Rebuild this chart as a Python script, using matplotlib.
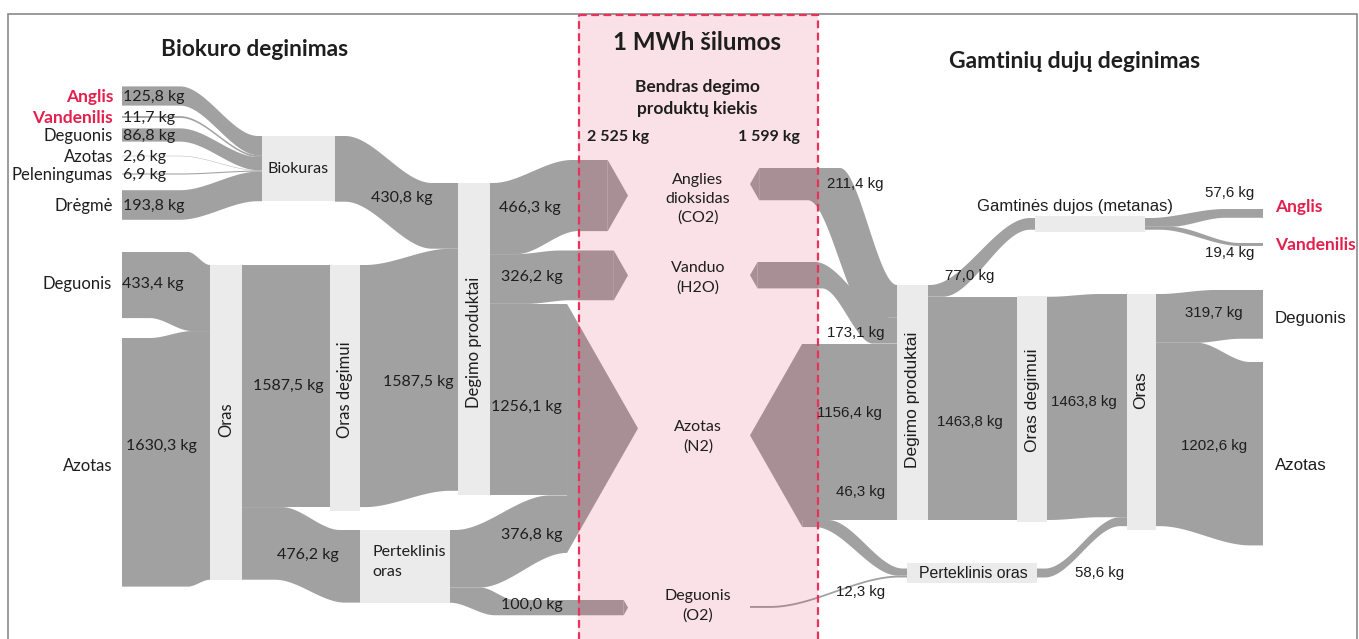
import matplotlib
matplotlib.use('Agg')
import matplotlib.pyplot as plt
import numpy as np
from matplotlib.patches import Polygon, Rectangle

# ---------------- DATA ----------------
bio_names = ['Anglis', 'Vandenilis', 'Deguonis', 'Azotas', 'Peleningumas', 'Drėgmė']
bio_values = [125.8, 11.7, 86.8, 2.6, 6.9, 193.8]
bio_red = [True, True, False, False, False, False]
biofuel_total = 430.8
air_names = ['Deguonis', 'Azotas']
air_bio = [433.4, 1630.3]
air_comb_bio = 1587.5
excess_air_bio = 476.2
products_bio = [466.3, 326.2, 1256.1]      # CO2, H2O, N2 from combustion products
excess_out_bio = [376.8, 100.0]            # N2, O2 from excess air
product_names = ['Anglies\ndioksidas\n(CO2)', 'Vanduo\n(H2O)', 'Azotas\n(N2)', 'Deguonis\n(O2)']
total_bio = '2 525 kg'
total_gas = '1 599 kg'
products_gas = [211.4, 173.1, 1156.4]      # CO2, H2O, N2 into combustion products
excess_out_gas = [46.3, 12.3]              # N2, O2 from excess air
gas_fuel = 77.0
gas_parts = [57.6, 19.4]                   # Anglis, Vandenilis
gas_part_names = ['Anglis', 'Vandenilis']
air_comb_gas = 1463.8
excess_air_gas = 58.6
air_gas = [319.7, 1202.6]

# ---------------- STYLE ----------------
W, H = 1359, 639
S = 0.1525            # px per kg
GRAY = '#a1a1a1'
NODE = '#ebebeb'
TXT = '#1e1e1e'
RED = '#e3204d'
K = 0.57              # arrow head depth / half height
FL = ['Lato', 'DejaVu Sans']
FR = ['Liberation Sans', 'DejaVu Sans']
NUM_R = 10.8

fig = plt.figure(figsize=(W / 100, H / 100), dpi=100)
ax = fig.add_axes([0, 0, 1, 1])
ax.set_xlim(0, W)
ax.set_ylim(H, 0)
ax.axis('off')


def kg(v):
    return f"{v:.1f}".replace('.', ',') + ' kg'


def edge(x0, x1, ya, yb, tr=None, n=60):
    xs, xe = tr if tr else (x0, x1)
    xx = np.linspace(xs, xe, n)
    t = np.clip((xx - xs) / max(xe - xs, 1e-9), 0, 1)
    yy = ya + (yb - ya) * (3 * t ** 2 - 2 * t ** 3)
    pts = [(x0, ya)] + list(zip(xx, yy)) + [(x1, yb)]
    return pts


def band(x0, x1, top0, top1, value, ttr=None, btr=None, z=2):
    h = value * S
    top = edge(x0, x1, top0, top1, ttr)
    bot = edge(x0, x1, top0 + h, top1 + h, btr)
    ax.add_patch(Polygon(top + bot[::-1], closed=True, fc=GRAY, ec='none', zorder=z))
    return h


def head(tip, top, value, direction=1, z=2):
    h = value * S
    d = K * h / 2
    xb = tip - direction * d
    ax.add_patch(Polygon([(xb, top), (tip, top + h / 2), (xb, top + h)], closed=True,
                         fc=GRAY, ec='none', zorder=z))
    return xb


def node(x, y, w, h, z=2.5):
    ax.add_patch(Rectangle((x, y), w, h, fc=NODE, ec='none', zorder=z))


def t(x, y, s, fs=11.5, ha='center', fam=FL, color=TXT, weight='normal', rot=0, ls=1.2, z=6):
    ax.text(x, y, s, fontsize=fs, ha=ha, va='center', family=fam, color=color,
            fontweight=weight, rotation=rot, linespacing=ls, zorder=z)


# ================= LEFT: biofuel =================
rows = [96, 117, 135, 156, 174, 205]
bx0, bx1, btop = 262, 335, 136
cum = btop
for name, v, red, r in zip(bio_names, bio_values, bio_red, rows):
    h = v * S
    band(122, bx0, r - h / 2, cum, v, ttr=(180, 258), btr=(180, 258))
    cum += h
    t(113, r + 1, name, ha='right', color=RED if red else TXT, weight='bold' if red else 'normal',
      fs=12.5 if red else 12)
    t(123, r + 1, kg(v), ha='left')
node(bx0, btop, bx1 - bx0, cum - btop)
t((bx0 + bx1) / 2, (btop + cum) / 2, 'Biokuras', fs=11.5)

# Degimo produktai node (left)
dpx, dptop = 458, 183
hb = band(bx1, dpx, btop, dptop, biofuel_total, ttr=(345, 432), btr=(345, 432))
t(402, 198, kg(biofuel_total))

# air inputs -> Oras
ox0, otop = 210, 265
hD = band(122, ox0, 252, otop, air_bio[0], ttr=(188, 210), btr=(150, 192))
hA = band(122, ox0, 338, otop + hD, air_bio[1], ttr=(150, 192), btr=(188, 210))
node(ox0, otop, 32, hD + hA)
t(112, 284, air_names[0], ha='right', fs=12)
t(122, 284, kg(air_bio[0]), ha='left')
t(112, 466, air_names[1], ha='right', fs=12)
t(126, 446, kg(air_bio[1]), ha='left')
t(226, 420, 'Oras', rot=90, fs=12)

# Oras -> Oras degimui
hc = band(242, 330, otop, otop, air_comb_bio)
node(330, otop, 30, hc + 4)
t(288, 386, kg(air_comb_bio))
t(345, 390, 'Oras degimui', rot=90, fs=12)

# Oras -> Perteklinis oras
ptop = 530
he = band(242, 360, otop + hc, ptop, excess_air_bio, ttr=(282, 340), btr=(275, 345))
node(360, ptop, 90, he)
t(308, 555, kg(excess_air_bio))
t(372, 562, 'Perteklinis\noras', ha='left', ls=1.55)

# Oras degimui -> Degimo produktai
band(360, dpx, otop, dptop + hb, air_comb_bio, ttr=(365, 450), btr=(365, 450))
t(418, 382, kg(air_comb_bio))
dp_in = hb + hc
dp_out = sum(products_bio) * S
node(dpx, dptop, 32, max(dp_in, dp_out))
t(474, 342, 'Degimo produktai', rot=90, fs=12)

# products -> pink box (left)
y = dptop
h_co2 = products_bio[0] * S
xb = head(628, 160, products_bio[0])
band(490, xb, y, 160, products_bio[0], ttr=(493, 572), btr=(517, 578))
t(530, 208, kg(products_bio[0]))
y += h_co2
h_h2o = products_bio[1] * S
xb = head(628, 250.5, products_bio[1])
band(490, xb, y, 250.5, products_bio[1], ttr=(517, 560), btr=(527, 570))
t(532, 277, kg(products_bio[1]))
y += h_h2o
n2_top = y
xb_n2 = head(638, n2_top, products_bio[2] + excess_out_bio[0])
hn = band(490, xb_n2, n2_top, n2_top, products_bio[2])
t(526, 407, kg(products_bio[2]))
band(450, xb_n2, ptop, n2_top + hn, excess_out_bio[0], ttr=(455, 550), btr=(480, 567))
t(532, 535, kg(excess_out_bio[0]))
xb = head(628, 600, excess_out_bio[1])
band(450, xb, ptop + excess_out_bio[0] * S, 600, excess_out_bio[1], ttr=(480, 515), btr=(450, 495))
t(532, 605, kg(excess_out_bio[1]))

# ================= RIGHT: natural gas =================
rdx, rtop = 897, 285
# CO2
xb = head(750, 168, products_gas[0], direction=-1)
band(xb, rdx, 168, rtop, products_gas[0], ttr=(840, 897), btr=(808, 870))
t(827, 184, kg(products_gas[0]), ha='left', fam=FR, fs=NUM_R)
y = rtop + products_gas[0] * S
# H2O
xb = head(750, 262, products_gas[1], direction=-1)
band(xb, rdx, 262, y, products_gas[1], ttr=(815, 890), btr=(822, 873))
t(827, 333, kg(products_gas[1]), ha='left', fam=FR, fs=NUM_R)
y += products_gas[1] * S
# N2
rn2 = y
xb_rn2 = head(750, rn2, products_gas[2] + excess_out_gas[0], direction=-1)
hn2 = band(xb_rn2, rdx, rn2, rn2, products_gas[2])
t(817, 413, kg(products_gas[2]), ha='left', fam=FR, fs=NUM_R)
rdp_in = sum(products_gas) * S

# Perteklinis oras (right)
pcy = 573
hx = excess_air_gas * S
p_top = pcy - hx / 2
band(xb_rn2, 907, rn2 + hn2, p_top, excess_out_gas[0], ttr=(828, 903), btr=(815, 898))
t(836, 492, kg(excess_out_gas[0]), ha='left', fam=FR, fs=NUM_R)
band(750, 907, 606, p_top + excess_out_gas[0] * S, excess_out_gas[1], ttr=(770, 900), btr=(770, 900))
t(836, 592, kg(excess_out_gas[1]), ha='left', fam=FR, fs=NUM_R)
node(907, 563, 130, 20)
t(973, 574, 'Perteklinis oras', fam=FR, fs=11.4)

# DP (right) outputs
hg = band(928, 1035, rtop, 218, gas_fuel, ttr=(930, 1030), btr=(943, 1030))
t(945, 276, kg(gas_fuel), ha='left', fam=FR, fs=NUM_R)
hod = band(928, 1017, rtop + hg, rtop + hg, air_comb_gas)
node(rdx, rtop, 31, max(rdp_in, hg + hod))
t(912, 400, 'Degimo produktai', rot=90, fam=FR, fs=12.5)
t(970, 422, kg(air_comb_gas), fam=FR, fs=NUM_R)

# Gamtinės dujos
node(1035, 216, 110, 16)
t(1075, 206, 'Gamtinės dujos (metanas)', fam=FR, fs=12)
band(1145, 1263, 218, 209, gas_parts[0], ttr=(1150, 1225), btr=(1170, 1225))
band(1145, 1263, 218 + gas_parts[0] * S, 243, gas_parts[1], ttr=(1170, 1240), btr=(1160, 1240))
t(1230, 193, kg(gas_parts[0]), fam=FR, fs=NUM_R)
t(1230, 253, kg(gas_parts[1]), fam=FR, fs=NUM_R)
t(1275, 207, gas_part_names[0], ha='left', color=RED, weight='bold', fs=12.5)
t(1275, 245, gas_part_names[1], ha='left', color=RED, weight='bold', fs=12.5)

# Oras degimui (right)
odtop = rtop + hg
node(1017, odtop - 1, 30, hod + 3)
t(1032, 400, 'Oras degimui', rot=90, fam=FR, fs=12.5)
rotop = 294
band(1047, 1127, odtop, rotop, air_comb_gas, ttr=(1050, 1100), btr=(1050, 1100))
t(1084, 402, kg(air_comb_gas), fam=FR, fs=NUM_R)
band(1037, 1127, p_top, rotop + hod, excess_air_gas, ttr=(1045, 1120), btr=(1045, 1120))
t(1100, 573, kg(excess_air_gas), fam=FR, fs=NUM_R)
hD2 = air_gas[0] * S
hA2 = air_gas[1] * S
node(1127, rotop, 29, hD2 + hA2 + 4)
t(1141, 390, 'Oras', rot=90, fam=FR, fs=12.5)
band(1156, 1263, rotop, 290, air_gas[0], ttr=(1160, 1215), btr=(1197, 1240))
band(1156, 1263, rotop + hD2, 362, air_gas[1], ttr=(1197, 1250), btr=(1160, 1250))
t(1214, 313, kg(air_gas[0]), fam=FR, fs=NUM_R)
t(1214, 446, kg(air_gas[1]), fam=FR, fs=NUM_R)
t(1275, 318, air_names[0], ha='left', fam=FR, fs=12.2)
t(1275, 466, air_names[1], ha='left', fam=FR, fs=12.2)

# ================= pink box & frame =================
ax.add_patch(Rectangle((578, 14), 240, 640, fc=(0.86, 0.1, 0.3, 0.13), ec='none', zorder=4))
ax.add_patch(Rectangle((578.5, 14.5), 239.5, 640, fc='none', ec='#e8325a', lw=1.6,
                       ls=(0, (3.5, 2)), zorder=5))
ax.plot([7.5, 7.5, 1356.5, 1356.5], [H + 5, 13.5, 13.5, H + 5], color='#8a8a8a', lw=1.2, zorder=1,
        solid_joinstyle='miter')

# titles
t(255, 50, 'Biokuro deginimas', fs=16.3, weight='bold')
t(1075, 61, 'Gamtinių dujų deginimas', fs=16.5, weight='bold')
t(697, 43, '1 MWh šilumos', fs=17.3, weight='bold')
t(697, 98, 'Bendras degimo\nproduktų kiekis', fs=12.5, weight='bold', ls=1.4)
t(587, 137, total_bio, ha='left', fs=11.5, weight='bold')
t(800, 137, total_gas, ha='right', fs=11.5, weight='bold')

# product labels in the pink box
for name, yy in zip(product_names, [199, 278, 437, 606]):
    t(698, yy, name, fs=11.5, ls=1.45)

fig.savefig('out.png', dpi=100)
